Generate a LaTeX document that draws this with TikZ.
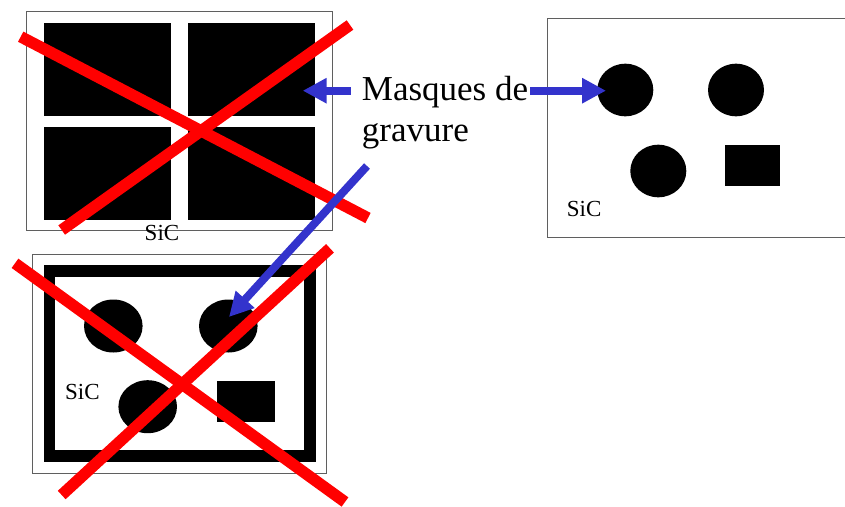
\documentclass[tikz,border=0pt]{standalone}
\usepackage{fontspec}
\setmainfont{Liberation Serif}
\usetikzlibrary{shapes.geometric, arrows.meta, calc}
\definecolor{fleche}{RGB}{51, 51, 204}
\definecolor{rature}{RGB}{255, 0, 0}
\definecolor{bord}{RGB}{95, 95, 95}
\tikzset{
    wafer/.style={rectangle, draw=bord, line width=1pt, fill=white, inner sep=0pt, outer sep=0pt},
    masque/.style={fill=black, inner sep=0pt, outer sep=0pt},
    pave/.style={masque, rectangle},
    rond/.style={masque, ellipse, minimum width=57pt, minimum height=53pt},
    cadre/.style={rectangle, draw=black, line width=11.7pt, inner sep=0pt},
    sic/.style={font=\fontsize{23}{27}\selectfont, inner sep=0pt},
    legende/.style={font=\fontsize{35}{41.7}\selectfont, align=left, inner sep=0pt},
    croix/.style={rature, line width=11.5pt},
    arr/.style={-{Triangle[length=24pt, width=24pt]}, line width=8pt, fleche}
}
\begin{document}
\begin{tikzpicture}[x=1pt, y=-1pt]
    \useasboundingbox (0,0) rectangle (845,506);

    % plaquette du haut : quatre paves
    \node[wafer, minimum width=306pt, minimum height=219pt] (w1) at (179.7,121.2) {};
    \node[pave, minimum width=127.6pt, minimum height=93pt] (p1) at (107.5,69.2) {};
    \node[pave, minimum width=127pt, minimum height=93pt] (p2) at (251.8,69.2) {};
    \node[pave, minimum width=127.6pt, minimum height=93.3pt] (p3) at (107.5,173.3) {};
    \node[pave, minimum width=127pt, minimum height=93.3pt] (p4) at (251.8,173.3) {};
    \node[sic, anchor=base] (s1) at (162,240.5) {SiC};
    \draw[croix] (20.7,36.7) -- (368,218);
    \draw[croix] (61.7,230) -- (350,25);

    % plaquette du bas : cadre + motifs
    \node[wafer, minimum width=294.4pt, minimum height=219.3pt] (w2) at (179.5,363.7) {};
    \node[cadre, minimum width=260.5pt, minimum height=185.4pt] (c2) at (179.75,363.5) {};
    \node[rond, minimum width=58.6pt] (r21) at (113.3,326) {};
    \node[rond, minimum width=58.6pt] (r22) at (228.3,326) {};
    \node[rond, minimum width=58.6pt] (r23) at (147.7,406.7) {};
    \node[pave, minimum width=58.3pt, minimum height=41pt] (p21) at (245.8,401.2) {};
    \node[sic, anchor=base west] (s2) at (65,399) {SiC};
    \draw[croix] (15,263.3) -- (345,502);
    \draw[croix] (61.7,495) -- (330,248.3);

    % plaquette de droite : bons masques
    \node[wafer, minimum width=302.3pt, minimum height=219pt, anchor=north west] (w3) at (547.7,18.3) {};
    \node[rond, minimum width=56pt, minimum height=52.6pt] (r31) at (625.3,90) {};
    \node[rond, minimum width=56pt, minimum height=52.6pt] (r32) at (736,90) {};
    \node[rond, minimum width=56pt, minimum height=52.6pt] (r33) at (658.3,171) {};
    \node[pave, minimum width=55.3pt, minimum height=40.7pt] (p31) at (752.7,165.3) {};
    \node[sic, anchor=base west] (s3) at (566.7,216.7) {SiC};

    % legende et fleches
    \node[legende, anchor=base west] (txt) at (361.7,141.7) {Masques de\\gravure};
    \coordinate (pointeG) at (302.7,90.7);
    \coordinate (pointeD) at (606,90.7);
    \coordinate (pointeB) at (229,317);
    \coordinate (depart) at (367,166);
    \draw[arr] ($(txt.west |- pointeG)+(-11,0)$) -- (pointeG);
    \draw[arr] ($(txt.east |- pointeD)+(2,0)$) -- (pointeD);
    \draw[arr] (depart) -- (pointeB);
\end{tikzpicture}
\end{document}
